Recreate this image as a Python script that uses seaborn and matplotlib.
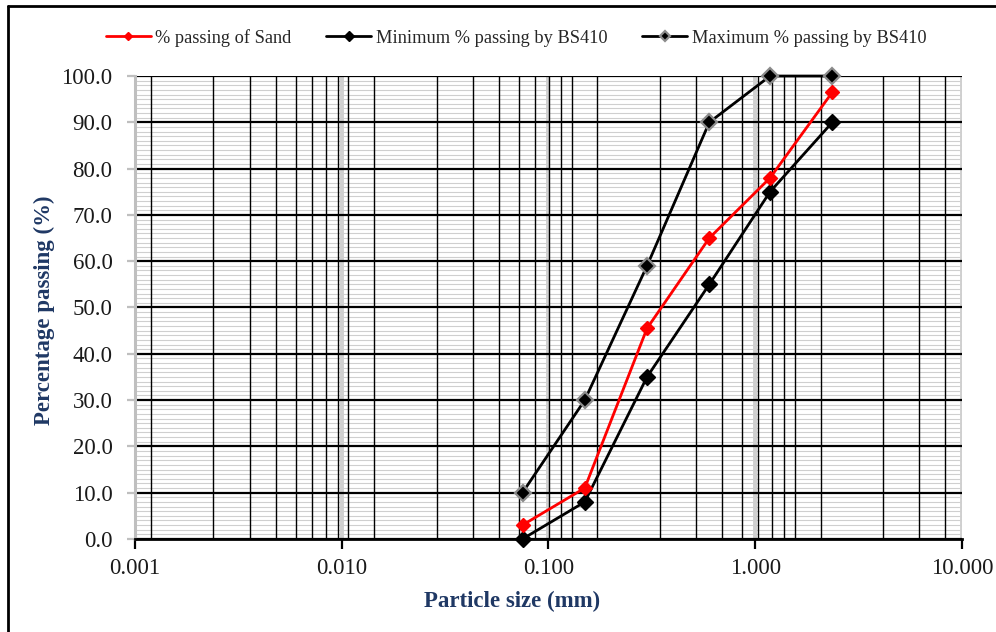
import numpy as np
import pandas as pd
import matplotlib
matplotlib.use("Agg")
import matplotlib.pyplot as plt
import seaborn as sns
from matplotlib.ticker import FixedLocator, MultipleLocator, FixedFormatter, NullFormatter
from matplotlib.lines import Line2D

# ---- data ----
sieve_mm = [0.075, 0.15, 0.3, 0.6, 1.18, 2.36]
sand_pass = [3.0, 11.0, 45.5, 65.0, 78.0, 96.5]
bs410_min = [0.0, 8.0, 35.0, 55.0, 75.0, 90.0]
bs410_max = [10.0, 30.0, 59.0, 90.0, 100.0, 100.0]
series_names = ["% passing of Sand", "Minimum % passing by BS410", "Maximum % passing by BS410"]
x_ticks = [0.001, 0.01, 0.1, 1.0, 10.0]
x_tick_labels = ["0.001", "0.010", "0.100", "1.000", "10.000"]
y_ticks = list(range(0, 101, 10))
y_tick_labels = [f"{v:.1f}" for v in y_ticks]

sns.set_style("white")
plt.rcParams['font.family'] = ['Liberation Serif', 'DejaVu Serif']

fig = plt.figure(figsize=(9.96, 6.32), dpi=100)
ax = fig.add_axes([0.1352, 0.1472, 0.8307, 0.7325])

styles = [
    dict(color="#ff0000", marker="D", markersize=7, markerfacecolor="#ff0000",
         markeredgecolor="#ff0000", markeredgewidth=1.0, zorder=5),
    dict(color="black", marker="D", markersize=8.5, markerfacecolor="black",
         markeredgecolor="black", markeredgewidth=1.0, zorder=4),
    dict(color="black", marker="D", markersize=8.5, markerfacecolor="black",
         markeredgecolor="#8c8c8c", markeredgewidth=1.6, zorder=4),
]
for name, vals, st in zip(series_names, [sand_pass, bs410_min, bs410_max], styles):
    sns.lineplot(x=sieve_mm, y=vals, ax=ax, label=name, linewidth=2.0,
                 errorbar=None, sort=False, clip_on=False, **st)

ax.set_xscale("log")
ax.set_xlim(0.001, 10)
ax.set_ylim(0, 100)

# Excel-style minor vertical gridlines
minor_pos = [0.0012 * 12 ** j * k for j in range(4) for k in range(1, 10)]
minor_pos = [p for p in minor_pos if 0.001 < p < 10]
ax.xaxis.set_major_locator(FixedLocator(x_ticks))
ax.xaxis.set_major_formatter(FixedFormatter(x_tick_labels))
ax.xaxis.set_minor_locator(FixedLocator(minor_pos))
ax.xaxis.set_minor_formatter(NullFormatter())
ax.yaxis.set_major_locator(FixedLocator(y_ticks))
ax.yaxis.set_major_formatter(FixedFormatter(y_tick_labels))
ax.yaxis.set_minor_locator(MultipleLocator(1))

ax.set_axisbelow(True)
ax.yaxis.set_zorder(0.4)   # horizontal gridlines beneath the vertical minor ones
ax.grid(which="minor", axis="y", color="#cfcfcf", linewidth=0.8)
ax.grid(which="minor", axis="x", color="black", linewidth=1.0)
ax.grid(which="major", axis="y", color="black", linewidth=1.6)
ax.grid(which="major", axis="x", visible=False)
for t in x_ticks:  # light decade gridlines, beneath everything else
    ax.axvline(t, color="#d0d0d0", linewidth=2.8, zorder=0.3)

for s in ["top", "right"]:
    ax.spines[s].set_visible(False)
ax.spines["left"].set_color("#bfbfbf")
ax.spines["left"].set_linewidth(2.2)
ax.spines["bottom"].set_color("black")
ax.spines["bottom"].set_linewidth(2.0)
ax.spines["bottom"].set_zorder(3)

ax.tick_params(axis="x", which="major", direction="out", length=7, width=1.6,
               color="black", labelsize=16.5, pad=7, labelcolor="#1a1a1a", bottom=True)
ax.tick_params(axis="y", which="major", direction="out", length=6, width=1.6,
               color="#bfbfbf", labelsize=16.5, pad=10, labelcolor="#1a1a1a", left=True)
ax.tick_params(which="minor", length=0)

ax.set_xlabel("Particle size (mm)", fontsize=16.5, fontweight="bold", color="#1f3864")
ax.xaxis.label.set_va("center")
ax.xaxis.set_label_coords(0.456, -0.134)
ax.set_ylabel("Percentage passing (%)", fontsize=16.5, fontweight="bold", color="#1f3864")
ax.yaxis.label.set_va("center")
ax.yaxis.set_label_coords(-0.109, 0.495)

leg = ax.legend(loc="center", bbox_to_anchor=(0.518, 0.94), bbox_transform=fig.transFigure,
                ncol=3, frameon=False, fontsize=13.2, handlelength=2.45, handletextpad=0.25,
                columnspacing=1.9, markerscale=0.6)

# figure border (top and left)
fig.add_artist(Line2D([7.5 / 996, 1.0], [1 - 6 / 632, 1 - 6 / 632], transform=fig.transFigure,
                      color="black", linewidth=2.0))
fig.add_artist(Line2D([7.5 / 996, 7.5 / 996], [0.0, 1 - 6 / 632], transform=fig.transFigure,
                      color="black", linewidth=2.0))

fig.savefig("out.png", dpi=100)
